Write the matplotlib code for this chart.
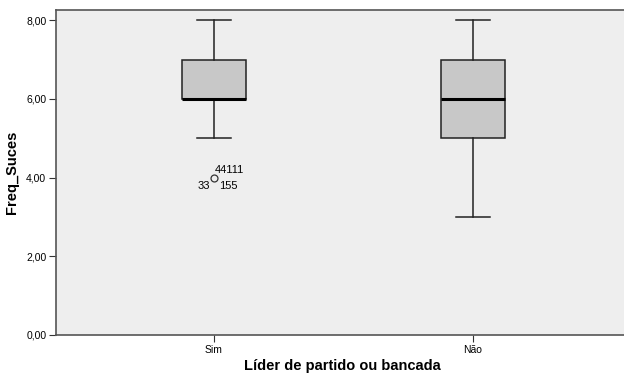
import matplotlib
matplotlib.use("Agg")
import matplotlib.pyplot as plt
from matplotlib.ticker import FuncFormatter

categories = ["Sim", "Não"]
whislo = [5, 3]
q1 = [6, 5]
med = [6, 6]
q3 = [7, 7]
whishi = [8, 8]
fliers = [[4], []]
outlier_labels = ["44111", "33", "155"]

plt.rcParams['font.family'] = ['Liberation Sans', 'DejaVu Sans']

fig = plt.figure(figsize=(6.24, 3.75), dpi=100)
ax = fig.add_axes([56/624, 40/375, 1.0, 325/375])
ax.set_facecolor('#EEEEEE')

stats = []
for i, c in enumerate(categories):
    stats.append(dict(label=c, whislo=whislo[i], q1=q1[i], med=med[i], q3=q3[i],
                      whishi=whishi[i], fliers=fliers[i]))

ax.bxp(stats, positions=[1, 2], widths=0.25, patch_artist=True, showfliers=True,
       boxprops=dict(facecolor='#C8C8C8', edgecolor='#222222', linewidth=1.1),
       medianprops=dict(color='black', linewidth=2.2),
       whiskerprops=dict(color='#222222', linewidth=1.1),
       capprops=dict(color='#222222', linewidth=1.1),
       capwidths=0.13,
       flierprops=dict(marker='o', markersize=5, markerfacecolor='none',
                       markeredgecolor='#333333', markeredgewidth=0.9))

px = 1/259.0
x0 = 1 - 158*px
ax.set_xlim(x0, x0 + 624*px)
ax.set_ylim(0, 8 + 10/38.75)

# outlier labels
fx = 1
fy = fliers[0][0]
ax.annotate(outlier_labels[0], (fx, fy), xytext=(1, 3), textcoords='offset pixels',
            fontsize=8, ha='left', va='bottom')
ax.annotate(outlier_labels[1], (fx, fy), xytext=(-4, -3), textcoords='offset pixels',
            fontsize=8, ha='right', va='top')
ax.annotate(outlier_labels[2], (fx, fy), xytext=(5, -3), textcoords='offset pixels',
            fontsize=8, ha='left', va='top')

ax.set_yticks([0, 2, 4, 6, 8])
ax.yaxis.set_major_formatter(FuncFormatter(lambda v, p: f"{v:.2f}".replace('.', ',')))
ax.set_xticks([1, 2])
ax.set_xticklabels(categories)
ax.tick_params(axis='both', labelsize=7.5, length=5, width=0.8, color='#333333', pad=2)

for s in ['left', 'bottom', 'top']:
    ax.spines[s].set_color('#555555')
    ax.spines[s].set_linewidth(1.2)
ax.spines['right'].set_visible(False)

ax.set_ylabel('Freq_Suces', fontsize=10.5, fontweight='bold', labelpad=5)
fig.text(342/624, 1 - 366/375, 'Líder de partido ou bancada', fontsize=10.5,
         fontweight='bold', ha='center', va='center')

fig.savefig('out.png', dpi=100)
